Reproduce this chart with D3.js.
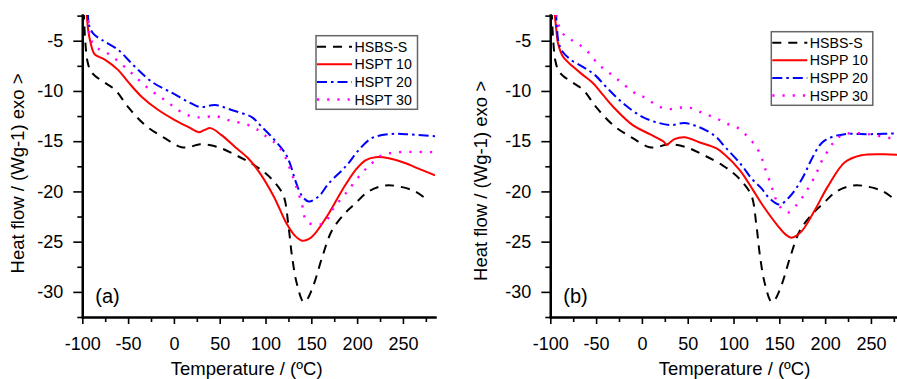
<!DOCTYPE html>
<html>
<head>
<meta charset="utf-8">
<script src="https://cdn.jsdelivr.net/npm/d3@7"></script>
<style>
body { margin: 0; background: #fff; }
text { font-family: "Liberation Sans", Arial, sans-serif; fill: #000; }
</style>
</head>
<body>
<svg width="897" height="379"></svg>
<script>
// temperature (ºC), heat flow (W/g)
const hsbsS = [[-98.5,-2.0],[-96.8,-5.0],[-94.5,-7.0],[-91,-8.0],[-86,-8.5],[-75,-9.2],[-64,-9.9],[-50,-11.6],
  [-31.5,-13.4],[-10,-14.7],[8.5,-15.6],[18,-15.55],[28.5,-15.3],[48.5,-15.6],[70,-16.5],[88,-17.4],[100,-18.2],
  [108,-18.9],[119.5,-20.4],[125,-23.4],[129,-26.5],[134.5,-29.3],[141.5,-31.0],[145,-30.8],[152.5,-29.3],
  [162,-26.5],[172.5,-23.9],[187.5,-22.1],[198,-21.2],[212.5,-20.0],[231,-19.4],[245,-19.5],[263.5,-20.0],[277,-20.9]];

const hspt10 = [[-95.5,-2.0],[-93.5,-4.0],[-91.5,-5.0],[-88.5,-6.0],[-86,-6.4],[-75,-6.9],[-61,-7.9],[-50,-9.1],
  [-35,-10.6],[-17,-11.9],[1,-12.9],[16,-13.6],[27,-14.1],[33,-13.9],[40,-13.7],[52,-14.4],[67,-15.6],[81,-16.7],
  [94,-18.2],[109,-20.5],[123,-23.2],[132,-24.4],[140,-24.9],[148,-24.7],[154,-24.2],[169,-22.2],[183.5,-19.9],
  [198,-17.9],[209,-16.9],[220,-16.6],[234.5,-16.7],[253,-17.2],[263.5,-17.6],[285,-18.4]];

const hspt20 = [[-94,-2.0],[-92.5,-3.5],[-88,-4.3],[-79,-4.9],[-61,-5.9],[-42.5,-7.6],[-24,-9.1],[-2,-10.2],
  [16,-11.1],[28.5,-11.6],[45,-11.4],[63,-11.9],[85,-12.6],[94,-13.4],[107,-14.6],[121.5,-16.2],[127,-17.3],
  [132.5,-18.9],[139.5,-20.4],[147,-21.0],[158,-20.5],[169,-19.2],[183.5,-17.9],[190.5,-17.2],[201.5,-15.9],
  [216,-14.7],[234.5,-14.3],[253,-14.3],[285,-14.5]];

const hspt30 = [[-93.5,-2.0],[-92,-4.5],[-89,-5.2],[-82.5,-5.8],[-71.5,-6.3],[-50,-7.9],[-30,-9.6],[-10,-10.9],
  [10,-12.2],[23,-12.6],[34,-12.6],[45,-12.5],[59.5,-12.9],[81.5,-13.4],[92,-13.9],[96,-14.2],[110.5,-15.2],
  [119.5,-16.2],[128.5,-18.2],[139.5,-21.2],[145,-23.0],[155,-23.3],[165,-23.1],[172.5,-21.9],[187.5,-20.2],
  [205,-18.2],[216,-17.2],[227,-16.4],[245,-16.1],[285,-16.1]];

const hspp10 = [[-95.5,-2.0],[-93,-4.3],[-91.5,-5.3],[-86,-6.6],[-75,-7.6],[-64.5,-8.4],[-53.5,-9.2],[-42.5,-10.4],
  [-28,-11.9],[-10,-13.4],[8.5,-14.3],[24.5,-15.1],[26.5,-15.4],[35.5,-14.8],[46.5,-14.6],[62.5,-15.1],[81,-15.7],
  [90,-16.3],[107,-17.9],[121.5,-19.9],[130.5,-21.2],[149,-23.5],[157,-24.3],[163,-24.6],[174,-24.0],[188.5,-21.9],
  [203,-19.5],[221.5,-17.1],[239.5,-16.4],[265,-16.3],[285,-16.4]];

const hspp20 = [[-94,-2.0],[-92.5,-4.0],[-91.5,-4.9],[-88,-5.9],[-79,-6.8],[-64.5,-7.6],[-51.5,-8.4],[-39,-9.6],
  [-21,-11.2],[1,-12.6],[19,-13.2],[32,-13.4],[46.5,-13.2],[62.5,-13.6],[80,-14.5],[91,-15.6],[109,-17.4],
  [119.5,-18.7],[130.5,-19.7],[139.5,-20.7],[150.5,-21.3],[161.5,-20.5],[170.5,-19.4],[178,-18.2],[183,-17.2],
  [196,-15.2],[207,-14.6],[221.5,-14.3],[250,-14.3],[285,-14.2]];

const hspp30 = [[-93.5,-2.4],[-88,-4.1],[-79,-4.8],[-68,-5.4],[-57,-6.3],[-48,-7.3],[-37,-8.1],[-26,-8.9],
  [-6,-10.3],[4.5,-10.7],[15.5,-11.4],[28,-11.8],[39,-11.7],[50,-11.6],[61,-12.0],[72,-12.4],[83,-12.8],[94,-13.3],
  [105,-13.7],[116,-14.6],[125,-15.6],[130.5,-16.6],[134,-17.6],[141.5,-19.5],[145,-20.5],[150.5,-21.5],
  [159.5,-22.1],[170,-21.2],[178,-20.2],[184.5,-19.2],[190.5,-18.2],[195,-17.2],[201.5,-16.2],[208.5,-15.2],
  [218,-14.4],[229,-14.2],[247,-14.3],[272,-14.7],[285,-14.8]];

const legendA = ["HSBS-S", "HSPT 10", "HSPT 20", "HSPT 30"];
const legendB = ["HSBS-S", "HSPP 10", "HSPP 20", "HSPP 30"];

const xMajor = [-100, -50, 0, 50, 100, 150, 200, 250];
const xMinor = [-75, -25, 25, 75, 125, 175, 225, 275];
const yMajor = [-30, -25, -20, -15, -10, -5];
const yMinor = [-32.5, -27.5, -22.5, -17.5, -12.5, -7.5, -2.5];

const styles = [
  { color: "#000", dash: "9,7", width: 2 },
  { color: "#ff0000", dash: null, width: 2 },
  { color: "#0000ff", dash: "10,4,2.5,4", width: 2 },
  { color: "#ff00ff", dash: "2.2,8", width: 2.4 }
];

const svg = d3.select("svg");

function drawPanel(p) {
    const x = d3.scaleLinear().domain([-100, 285]).range([p.left, p.left + 352.7]);
    const y = d3.scaleLinear().domain([-32.5, -2.44]).range([317, 15]);

    const g = svg.append("g");

    g.append("clipPath").attr("id", "clip" + p.id)
        .append("rect")
        .attr("x", p.left).attr("y", 15)
        .attr("width", 352.7).attr("height", 302);

    const line = d3.line()
        .x(d => x(d[0]))
        .y(d => y(d[1]))
        .curve(d3.curveCatmullRom.alpha(0.5));

    g.append("g")
        .attr("clip-path", `url(#clip${p.id})`)
        .selectAll("path")
        .data(p.series)
        .enter().append("path")
        .attr("d", line)
        .attr("fill", "none")
        .attr("stroke", (d, i) => styles[i].color)
        .attr("stroke-width", (d, i) => styles[i].width)
        .attr("stroke-dasharray", (d, i) => styles[i].dash);

    // minor ticks first, then major ticks with labels
    g.append("g").attr("transform", "translate(0,317)")
        .call(d3.axisBottom(x).tickValues(xMinor).tickFormat("").tickSize(5).tickSizeOuter(0));
    g.append("g").attr("transform", "translate(0,317)")
        .call(d3.axisBottom(x).tickValues(xMajor).tickFormat(d => String(d)).tickSize(7).tickPadding(13).tickSizeOuter(0));
    g.append("g").attr("transform", `translate(${p.left},0)`)
        .call(d3.axisLeft(y).tickValues(yMinor).tickFormat("").tickSize(5).tickSizeOuter(0));
    g.append("g").attr("transform", `translate(${p.left},0)`)
        .call(d3.axisLeft(y).tickValues(yMajor).tickFormat(d => String(d)).tickSize(9).tickPadding(10).tickSizeOuter(0));

    g.selectAll(".domain").attr("stroke-width", 2.2).attr("stroke-linecap", "square");
    g.selectAll(".tick line").attr("stroke-width", 1.6);
    g.selectAll(".tick text").style("font-size", "18px").attr("fill", "#000");

    g.append("text")
        .attr("x", p.left + 13).attr("y", 303)
        .style("font-size", "20px")
        .text(p.tag);

    g.append("text")
        .attr("x", p.xTitleX).attr("y", 375)
        .attr("text-anchor", "middle")
        .style("font-size", "18.5px")
        .text("Temperature / (ºC)");

    g.append("text")
        .attr("transform", `translate(${p.yTitleX},${p.yTitleY}) rotate(-90)`)
        .attr("text-anchor", "middle")
        .style("font-size", "18.5px")
        .text("Heat flow / (Wg-1) exo >");

    // legend
    const lg = g.append("g");
    lg.append("rect")
        .attr("x", p.legX).attr("y", p.legY)
        .attr("width", 101.5).attr("height", 73.6)
        .attr("fill", "#fff").attr("stroke", "#666").attr("stroke-width", 1.5);

    const rows = lg.selectAll("g.row")
        .data(p.labels)
        .enter().append("g")
        .attr("class", "row")
        .attr("transform", (d, i) => `translate(${p.legX},${p.legY + 11 + i * 17.6})`);

    rows.append("line")
        .attr("x1", 1).attr("x2", 36).attr("y1", 0).attr("y2", 0)
        .attr("stroke", (d, i) => styles[i].color)
        .attr("stroke-width", (d, i) => styles[i].width)
        .attr("stroke-dasharray", (d, i) => styles[i].dash);

    rows.append("text")
        .attr("x", 38.5).attr("y", 5)
        .style("font-size", "14.2px")
        .text(d => d);
}

drawPanel({ id: "a", left: 82.3, tag: "(a)", series: [hsbsS, hspt10, hspt20, hspt30], labels: legendA,
    xTitleX: 246.7, yTitleX: 24, yTitleY: 173.5, legX: 316, legY: 35.7 });
drawPanel({ id: "b", left: 550.3, tag: "(b)", series: [hsbsS, hspp10, hspp20, hspp30], labels: legendB,
    xTitleX: 734.5, yTitleX: 487, yTitleY: 181, legX: 771.3, legY: 31.7 });
</script>
</body>
</html>
